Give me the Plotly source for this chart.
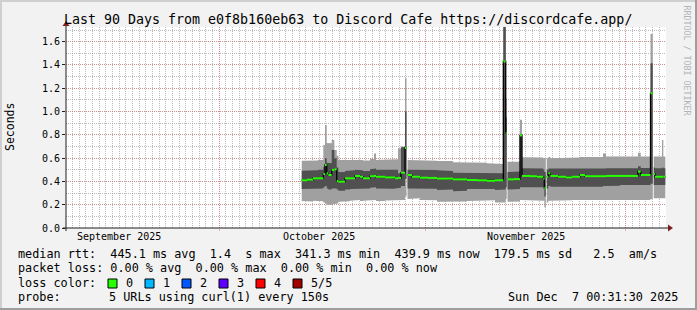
import plotly.graph_objects as go
import pandas as pd

# ---------------- data ----------------
ORIGIN = "2025-10-01 00:00:00"          # reference for the day offsets below
RANGE_START = "2025-09-08 00:31:30"
RANGE_END = "2025-12-07 00:31:30"

# segment edges, days since ORIGIN (N+1 values)
edge_days = [12.38, 13.17, 14.07, 14.82, 15.62, 15.87, 16.13, 16.37, 16.88, 17.27,
             17.63, 17.87, 18.87, 19.62, 20.37, 21.12, 21.57, 22.62, 23.22, 23.52,
             24.87, 26.37, 26.82, 27.27, 27.87, 28.10, 28.25, 28.92, 30.12, 31.32,
             32.67, 33.87, 35.07, 36.12, 37.17, 38.67, 40.17, 41.37, 42.62, 42.98,
             43.13, 43.25, 44.22, 45.12, 45.42, 46.62, 47.67, 48.62, 48.77, 48.98,
             49.13, 49.37, 49.67, 50.82, 52.02, 52.92, 54.12, 54.87, 56.37, 57.57,
             58.02, 58.92, 60.12, 61.32, 62.82, 63.23, 64.02, 64.70, 65.03, 65.18,
             65.37, 66.42, 66.62, 66.92]

# sorted rtt of the 5 probes (seconds), None = no data
ping1 = [.232, .228, .235, .230, .220, .210, .200, .198, .205, .210,
         .210, .226, .230, .235, .240, .232, .235, .238, .240, .232,
         .236, .240, .235, .240, .270, None, .250, .255, .240, .238,
         .226, .228, .226, .228, .232, .236, .238, .220, .220, .250,
         None, .226, .228, .240, .240, .240, .238, .235, .178, None,
         .220, .235, .240, .240, .238, .240, .242, .240, .240, .240,
         .240, .240, .240, .240, .245, .240, .240, .250, None, .255,
         .255, .255, .255]
ping2 = [.335, .340, .335, .340, .350, .360, .340, .330, .340, .340,
         .330, .320, .330, .335, .340, .335, .340, .345, .350, .340,
         .338, .340, .345, .360, .420, None, .340, .341, .340, .338,
         .326, .330, .315, .320, .335, .335, .335, .326, .330, .350,
         None, .330, .335, .350, .355, .355, .352, .350, .270, None,
         .340, .360, .355, .355, .352, .355, .358, .355, .355, .360,
         .360, .362, .369, .369, .370, .369, .369, .380, None, .370,
         .370, .370, .370]
median = [.410, .415, .427, .427, .464, .541, .470, .455, .498, .504,
          .404, .398, .427, .427, .447, .440, .427, .445, .447, .440,
          .435, .427, .430, .475, .687, None, .455, .440, .432, .430,
          .424, .424, .418, .418, .412, .410, .406, .410, 1.430, .813,
          None, .418, .420, .795, .447, .445, .440, .420, .341, None,
          .440, .470, .447, .440, .435, .440, .455, .445, .445, .445,
          .447, .447, .447, .447, .484, .455, .455, 1.157, None, .464,
          .440, .440, .440]
ping4 = [.492, .490, .495, .500, .527, .600, .560, .556, .670, .600,
         .520, .480, .490, .495, .500, .495, .490, .505, .510, .500,
         .495, .500, .470, .693, 1.000, None, .500, .504, .500, .498,
         .495, .490, .475, .475, .470, .470, .470, .470, 1.750, .950,
         None, .480, .485, .800, .513, .513, .510, .500, .480, None,
         .500, .510, .506, .506, .504, .505, .510, .506, .506, .510,
         .513, .513, .513, .513, .530, .515, .515, 1.415, None, .520,
         .513, .520, .513]
ping5 = [.578, .575, .580, .585, .713, .885, .730, .727, .756, .670,
         .620, .584, .585, .590, .590, .585, .580, .595, .640, .585,
         .590, .590, .685, .700, 1.286, None, .584, .584, .580, .578,
         .575, .575, .565, .565, .561, .561, .556, .550, 1.750, 1.114,
         None, .570, .570, .930, .607, .605, .605, .600, .600, None,
         .600, .610, .600, .605, .600, .605, .610, .605, .610, .640,
         .613, .613, .613, .613, .647, .613, .613, 1.667, None, .613,
         .613, .756, .613]

y_ticks = [0.0, 0.2, 0.4, 0.6, 0.8, 1.0, 1.2, 1.4, 1.6]
month_starts = ["2025-10-01", "2025-11-01", "2025-12-01"]
month_labels = ["September 2025", "October 2025", "November 2025"]
month_label_at = ["2025-09-16", "2025-10-16", "2025-11-16"]

title = "Last 90 Days from e0f8b160eb63 to Discord Cafe https://discordcafe.app/"
row1 = "median rtt:  445.1 ms avg  1.4  s max  341.3 ms min  439.9 ms now  179.5 ms sd   2.5  am/s"
row2 = "packet loss: 0.00 % avg  0.00 % max  0.00 % min  0.00 % now"
loss_labels = ["0", "1", "2", "3", "4", "5/5"]
loss_colors = ["#26ff00", "#00b8ff", "#0059ff", "#5e00ff", "#ff0000", "#a00000"]
probe_text = "5 URLs using curl(1) every 150s"
stamp = "Sun Dec  7 00:31:30 2025"

# ---------------- geometry ----------------
W, H = 697, 310
L, R, T, B = 66, 31, 27, 82
PW, PH = W - L - R, H - T - B
FONT = "DejaVu Sans Mono"


def px(xp):
    return (xp - L) / PW


def py(yp):
    return (H - B - yp) / PH


origin = pd.Timestamp(ORIGIN)
edges = [(origin + pd.to_timedelta(d, unit="D")).strftime("%Y-%m-%d %H:%M:%S") for d in edge_days]
N = len(median)

runs, cur = [], []
for i in range(N):
    if median[i] is None:
        if cur:
            runs.append(cur)
        cur = []
    else:
        cur.append(i)
if cur:
    runs.append(cur)


def band(lo, hi):
    xs, ys = [], []
    for run in runs:
        for i in run:
            xs += [edges[i], edges[i + 1]]
            ys += [hi[i], hi[i]]
        for i in reversed(run):
            xs += [edges[i + 1], edges[i]]
            ys += [lo[i], lo[i]]
        xs.append(None)
        ys.append(None)
    return xs, ys


fig = go.Figure()

bx, by = band(ping1, ping5)
fig.add_trace(go.Scatter(x=bx, y=by, mode="lines", fill="toself", fillcolor="#a0a0a0",
                         line=dict(width=0), hoverinfo="skip", showlegend=False))
bx, by = band(ping2, ping4)
fig.add_trace(go.Scatter(x=bx, y=by, mode="lines", fill="toself", fillcolor="#505050",
                         line=dict(width=0), hoverinfo="skip", showlegend=False))

# black median step line
mx, my = [], []
for run in runs:
    for i in run:
        mx += [edges[i], edges[i + 1]]
        my += [median[i], median[i]]
    mx.append(None)
    my.append(None)
fig.add_trace(go.Scatter(x=mx, y=my, mode="lines", line=dict(color="#000000", width=1.3),
                         hoverinfo="skip", showlegend=False))

# loss-coloured median (horizontal pieces only)
gx, gy = [], []
for i in range(N):
    if median[i] is not None:
        gx += [edges[i], edges[i + 1], None]
        gy += [median[i], median[i], None]
fig.add_trace(go.Scatter(x=gx, y=gy, mode="lines", line=dict(color=loss_colors[0], width=2),
                         hoverinfo="skip", showlegend=False))

GRID = "rgba(143,143,143,0.6)"
MGRID = "rgba(222,79,79,0.42)"

fig.update_xaxes(
    type="date", range=[RANGE_START, RANGE_END],
    tickmode="array", tickvals=month_starts, ticktext=["", "", ""],
    showgrid=True, gridcolor=MGRID, griddash="1px,1px", gridwidth=1,
    ticks="outside", ticklen=2, tickcolor=MGRID,
    showline=False, zeroline=False,
    minor=dict(tickmode="linear", tick0="2025-09-09", dtick=86400000,
               showgrid=True, gridcolor=GRID, griddash="1px,1px", ticks=""),
)
fig.update_yaxes(
    range=[0, PH / 116.44], tickmode="array", tickvals=y_ticks,
    ticktext=["%.1f" % v for v in y_ticks],
    showgrid=True, gridcolor=MGRID, griddash="1px,1px", gridwidth=1,
    ticks="outside", ticklen=3, tickcolor="#1f1f1f",
    tickfont=dict(family=FONT, size=10, color="#000"),
    showline=False, zeroline=False,
    minor=dict(tickmode="linear", tick0=0, dtick=0.1, showgrid=True,
               gridcolor=GRID, griddash="1px,1px", ticks=""),
)

ann = []
for lab, at in zip(month_labels, month_label_at):
    ann.append(dict(x=at, xref="x", y=py(237), yref="paper", text=lab, showarrow=False,
                    xanchor="center", yanchor="middle", font=dict(family=FONT, size=10, color="#000")))
ann.append(dict(x=px(348), y=py(19.5), xref="paper", yref="paper", text=title, showarrow=False,
                xanchor="center", yanchor="middle", font=dict(family=FONT, size=13.3, color="#000")))
ann.append(dict(x=px(10), y=py(127), xref="paper", yref="paper", text="Seconds", showarrow=False,
                textangle=-90, xanchor="center", yanchor="middle",
                font=dict(family=FONT, size=11.5, color="#000")))
ann.append(dict(x=px(686.5), y=py(60), xref="paper", yref="paper", text="RRDTOOL / TOBI OETIKER",
                showarrow=False, textangle=90, xanchor="center", yanchor="middle",
                font=dict(family=FONT, size=8.3, color="#b4b4b4")))


def nb(s):
    return s.replace(" ", "\u00a0")


LF = dict(family=FONT, size=11.8, color="#000")
for txt, xx, yy, anc in [(row1, 16, 254, "left"), (row2, 16, 268, "left"),
                          ("loss color:", 16, 283, "left"), ("probe:", 16, 297, "left"),
                          (probe_text, 107, 297, "left"), (stamp, 680, 297, "right")]:
    ann.append(dict(x=px(xx), y=py(yy), xref="paper", yref="paper", text=nb(txt), showarrow=False,
                    xanchor=anc, yanchor="middle", font=LF))

shapes = []
for k, (lab, col) in enumerate(zip(loss_labels, loss_colors)):
    x0 = 108 + 37 * k
    shapes.append(dict(type="rect", xref="paper", yref="paper", x0=px(x0), x1=px(x0 + 9),
                       y0=py(288), y1=py(279), fillcolor=col, line=dict(color="#000", width=1)))
    ann.append(dict(x=px(x0 + 15.5), y=py(283), xref="paper", yref="paper", text=lab, showarrow=False,
                    xanchor="left", yanchor="middle", font=LF))

# axes lines and arrows
shapes.append(dict(type="line", xref="paper", yref="paper", x0=px(63), x1=px(669), y0=py(228), y1=py(228),
                   line=dict(color="#1f1f1f", width=1)))
shapes.append(dict(type="line", xref="paper", yref="paper", x0=px(66), x1=px(66), y0=py(231), y1=py(24),
                   line=dict(color="#1f1f1f", width=1)))
shapes.append(dict(type="path", xref="paper", yref="paper",
                   path="M %f %f L %f %f L %f %f Z" % (px(668), py(224.5), px(668), py(231.5), px(673), py(228)),
                   fillcolor="#801f1f", line=dict(width=0)))
shapes.append(dict(type="path", xref="paper", yref="paper",
                   path="M %f %f L %f %f L %f %f Z" % (px(62.5), py(26), px(69.5), py(26), px(66), py(21)),
                   fillcolor="#801f1f", line=dict(width=0)))
# frame shading
shapes += [
    dict(type="rect", xref="paper", yref="paper", x0=px(0), x1=px(W), y0=py(0), y1=py(2),
         fillcolor="#cfcfcf", line=dict(width=0)),
    dict(type="rect", xref="paper", yref="paper", x0=px(0), x1=px(2), y0=py(0), y1=py(H),
         fillcolor="#cfcfcf", line=dict(width=0)),
    dict(type="rect", xref="paper", yref="paper", x0=px(0), x1=px(W), y0=py(H - 2), y1=py(H),
         fillcolor="#9e9e9e", line=dict(width=0)),
    dict(type="rect", xref="paper", yref="paper", x0=px(W - 2), x1=px(W), y0=py(0), y1=py(H),
         fillcolor="#9e9e9e", line=dict(width=0)),
]

fig.update_layout(
    width=W, height=H, margin=dict(l=L, r=R, t=T, b=B, pad=0),
    paper_bgcolor="#f2f2f2", plot_bgcolor="#ffffff",
    showlegend=False, annotations=ann, shapes=shapes,
    font=dict(family=FONT, color="#000"),
)

fig.write_html("out.html")
